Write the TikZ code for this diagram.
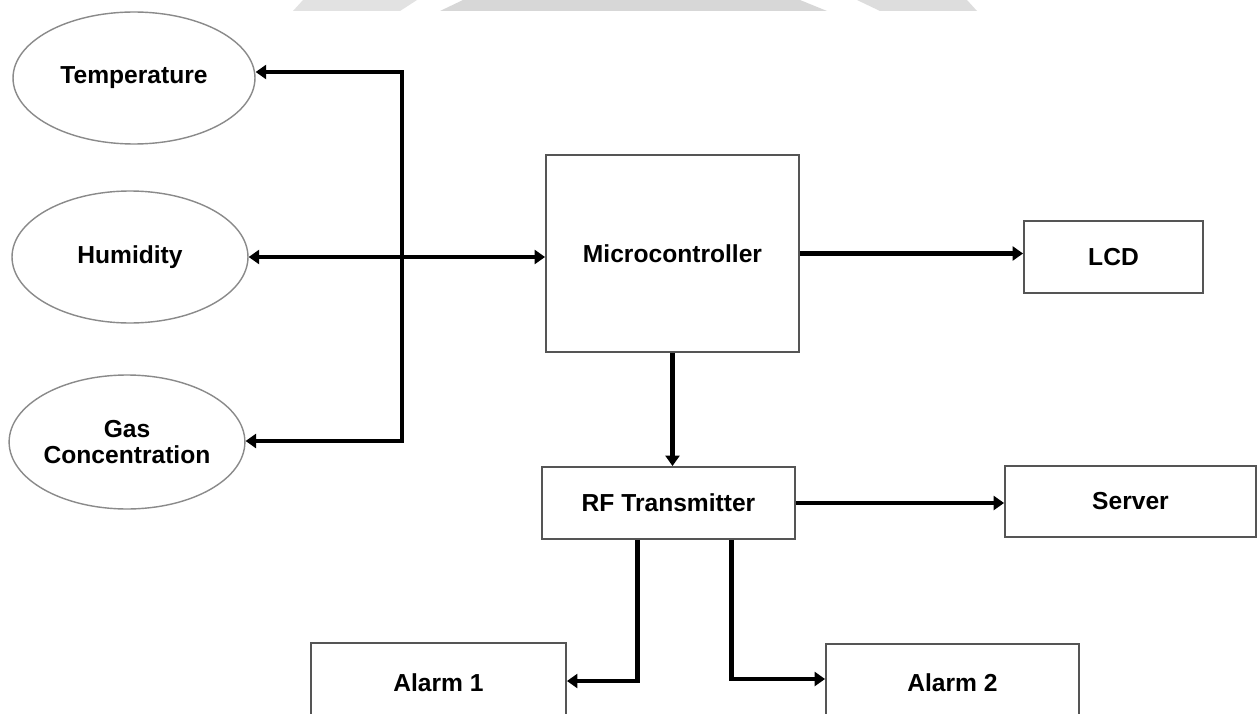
\documentclass[tikz,border=0pt]{standalone}
\usepackage{fontspec}
\setmainfont{Liberation Sans}
\usetikzlibrary{arrows.meta,shapes.geometric,calc}
\definecolor{boxgray}{HTML}{555555}
\definecolor{ovalgray}{HTML}{8A8A8A}
\definecolor{wmA}{HTML}{E2E2E2}
\definecolor{wmB}{HTML}{D7D7D7}
\definecolor{wmC}{HTML}{DDDDDD}
\begin{document}
\begin{tikzpicture}[x=0.02cm,y=-0.02cm,
  lbl/.style={font=\fontsize{14}{16}\selectfont\bfseries,text=black},
  box/.style={lbl,draw=boxgray,line width=1.1pt,fill=white,inner sep=0pt},
  oval/.style={lbl,ellipse,draw=ovalgray,line width=0.8pt,fill=white,inner sep=0pt,align=center},
  conn/.style={line width=2.6pt,line join=miter,draw=black},
  arr/.style={conn,-{Triangle[length=6pt,width=8pt]}},
  dblarr/.style={conn,{Triangle[length=6pt,width=8pt]}-{Triangle[length=6pt,width=8pt]}}]
\useasboundingbox (0,0) rectangle (1257,713);
\fill[white] (0,0) rectangle (1257,713);
% faint watermark at top edge
\fill[wmA] (293,11) -- (303,0) -- (417,0) -- (400,11) -- cycle;
\fill[wmB] (440,11) -- (463,0) -- (800,0) -- (827,11) -- cycle;
\fill[wmC] (880,11) -- (857,0) -- (967,0) -- (977,11) -- cycle;

% sensors
\node[oval,minimum width=4.84cm,minimum height=2.64cm] (temp) at (134,78) {Temperature};
\node[oval,minimum width=4.72cm,minimum height=2.64cm] (hum) at (130,257) {Humidity};
\node[oval,minimum width=4.48cm,minimum height=2.68cm] (gas) at (127,442) {Gas\\[-1pt]Concentration};

% blocks
\node[box,minimum width=5.06cm,minimum height=3.94cm] (micro) at (672.5,253.5) {Microcontroller};
\node[box,minimum width=3.58cm,minimum height=1.44cm] (lcd) at (1113.5,257) {LCD};
\node[box,minimum width=5.06cm,minimum height=1.44cm] (rf) at (668.5,503) {RF Transmitter};
\node[box,minimum width=5.02cm,minimum height=1.42cm] (server) at (1130.5,501.5) {Server};
\node[box,minimum width=5.10cm,minimum height=1.60cm] (alarm1) at (438.5,683) {Alarm 1};
\node[box,minimum width=5.06cm,minimum height=1.56cm] (alarm2) at (952.5,683) {Alarm 2};

% bus to sensors
\coordinate (bt) at (402,72);
\coordinate (bb) at (402,441);
\draw[dblarr] (bt -| temp.east) -- (bt) -- (bb) -- (bb -| gas.east);
\draw[dblarr] (hum.east) -- (hum.east -| micro.west);

% outputs
\draw[arr] (micro.east) -- (micro.east -| lcd.west);
\draw[arr] (micro.south) -- (micro.south |- rf.north);
\draw[arr] (rf.east) -- (rf.east -| server.west);
\coordinate (r1) at ($(rf.south west)!0.379!(rf.south east)$);
\coordinate (r2) at ($(rf.south west)!0.747!(rf.south east)$);
\draw[arr] (r1) -- (r1 |- 0,681) -- (alarm1.east |- 0,681);
\draw[arr] (r2) -- (r2 |- 0,679) -- (alarm2.west |- 0,679);
\end{tikzpicture}
\end{document}
